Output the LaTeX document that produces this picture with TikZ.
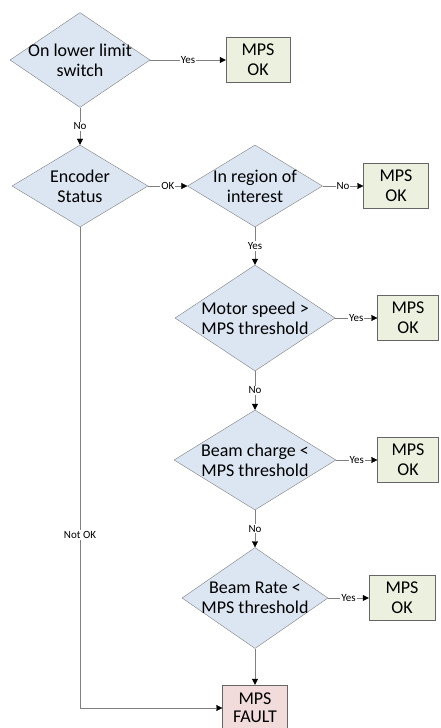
\documentclass[tikz,border=0pt]{standalone}
\usepackage{fontspec}
\setmainfont{Carlito}
\usetikzlibrary{shapes.geometric, arrows.meta}

\definecolor{decfill}{HTML}{DCE6F2}
\definecolor{okfill}{HTML}{EBF1DE}
\definecolor{faultfill}{HTML}{F2DCDB}
\definecolor{edgegray}{HTML}{7F7F7F}

\tikzset{
  decision/.style={diamond, draw=edgegray, fill=decfill, inner sep=-12pt,
    align=center, font=\fontsize{18}{20}\selectfont},
  okbox/.style={rectangle, draw=edgegray!80!black, fill=okfill, inner sep=0pt,
    minimum width=64pt, minimum height=45pt, align=center,
    font=\fontsize{18}{20}\selectfont},
  faultbox/.style={okbox, fill=faultfill, font=\fontsize{18}{18}\selectfont},
  flow/.style={draw=edgegray, -{Triangle[black,length=6pt,width=6pt]}},
  cond/.style={fill=white, inner sep=1pt, font=\fontsize{11}{12}\selectfont}
}

\begin{document}
\begin{tikzpicture}[x=1pt, y=-1pt]
    \useasboundingbox (0,0) rectangle (441,728);
    % decisions
    \node[decision, minimum width=140pt, minimum height=95pt] (limit) at (80,60) {On lower limit\\switch};
    \node[decision, minimum width=136pt, minimum height=82pt] (encoder) at (80,186) {Encoder\\Status};
    \node[decision, minimum width=135pt, minimum height=82pt] (region) at (255,186) {In region of\\interest};
    \node[decision, minimum width=160pt, minimum height=106pt] (speed) at (255,318) {Motor speed >\\MPS threshold};
    \node[decision, minimum width=162pt, minimum height=100pt] (charge) at (255,460) {Beam charge <\\MPS threshold};
    \node[decision, minimum width=146pt, minimum height=101pt] (rate) at (255,598) {Beam Rate <\\MPS threshold};
    % outcomes
    \node[okbox] (ok1) at (258,60) {MPS\\OK};
    \node[okbox, minimum width=65pt] (ok2) at (396,186) {MPS\\OK};
    \node[okbox, minimum width=61pt] (ok3) at (408,318) {MPS\\OK};
    \node[okbox, minimum width=61pt] (ok4) at (408,460) {MPS\\OK};
    \node[okbox, minimum width=66pt] (ok5) at (402,598) {MPS\\OK};
    \node[faultbox, minimum width=65pt, minimum height=46pt] (fault) at (255,708) {MPS\\FAULT};
    % flow
    \draw[flow] (limit) -- node[cond] {Yes} (ok1);
    \draw[flow] (limit) -- node[cond] {No} (encoder);
    \draw[flow] (encoder) -- node[cond] {OK} (region);
    \draw[flow] (region) -- node[cond] {No} (ok2);
    \draw[flow] (region) -- node[cond] {Yes} (speed);
    \draw[flow] (speed) -- node[cond] {Yes} (ok3);
    \draw[flow] (speed) -- node[cond] {No} (charge);
    \draw[flow] (charge) -- node[cond] {Yes} (ok4);
    \draw[flow] (charge) -- node[cond] {No} (rate);
    \draw[flow] (rate) -- node[cond] {Yes} (ok5);
    \draw[flow] (rate) -- (fault);
    \draw[flow] (encoder.south) |- node[cond, pos=0.32] {Not OK} (fault.west);
\end{tikzpicture}
\end{document}
